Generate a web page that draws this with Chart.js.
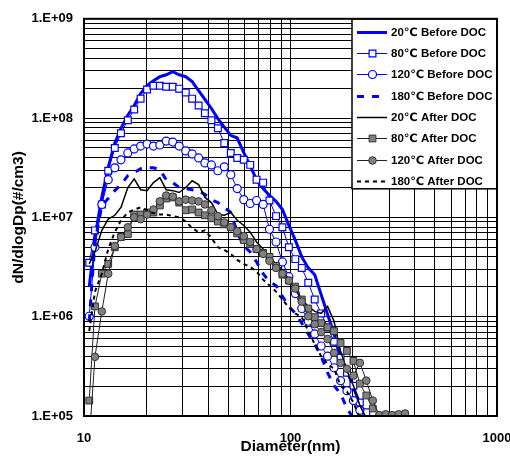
<!DOCTYPE html>
<html>
<head>
<meta charset="utf-8">
<script src="https://cdn.jsdelivr.net/npm/chart.js@4/dist/chart.umd.min.js"></script>
<style>
  html, body { margin: 0; padding: 0; background: #fff; }
</style>
</head>
<body>
<canvas id="psd" width="510" height="456"></canvas>
<script>
// particle diameter channels (nm)
const diameter = [10.6, 11.3, 12.2, 13.1, 14.1, 15.1, 16.3, 17.5, 18.8, 20.2,
  21.7, 23.3, 25.0, 26.9, 28.9, 31.1, 33.4, 35.9, 38.5, 41.4,
  44.5, 47.8, 51.4, 55.2, 59.4, 63.8, 68.5, 73.7, 79.1, 85.1,
  91.4, 98.2, 105.5, 113.4, 121.9, 131.0, 140.7, 151.2, 162.5, 174.7,
  187.7, 201.7, 216.7, 232.9, 250.3, 269.0, 289.0, 310.6, 333.8, 358.7];

// dN/dlogDp (#/cm3)
const before20C = [2.0e6, 6.3e6, 1.6e7, 3.2e7, 5.6e7, 7.9e7, 1.07e8, 1.34e8, 1.77e8, 2.12e8,
  2.38e8, 2.61e8, 2.73e8, 2.93e8, 2.73e8, 2.61e8, 2.33e8, 1.89e8, 1.54e8, 1.25e8,
  9.9e7, 8.1e7, 6.7e7, 6.3e7, 4.5e7, 3.3e7, 2.4e7, 1.95e7, 1.66e7, 1.45e7,
  1.2e7, 8.3e6, 5.9e6, 4.0e6, 3.1e6, 2.65e6, 1.67e6, 1.06e6, 6.7e5, 4.0e5,
  2.86e5, 1.93e5, 1.34e5, 9.1e4];
const before80C = [3.5e6, 7.4e6, 1.35e7, 2.95e7, 5.0e7, 7.05e7, 9.5e7, 1.22e8, 1.57e8, 1.94e8,
  2.12e8, 2.12e8, 2.07e8, 2.07e8, 1.98e8, 1.81e8, 1.57e8, 1.34e8, 1.12e8, 9.5e7,
  7.9e7, 5.6e7, 4.46e7, 3.97e7, 3.8e7, 3.38e7, 2.4e7, 2.24e7, 1.48e7, 1.03e7,
  7.96e6, 5.0e6, 3.8e6, 3.1e6, 2.2e6, 1.49e6, 1.08e6, 7.8e5, 5.6e5, 3.85e5,
  2.73e5, 2.02e5, 1.37e5, 1.09e5];
const before120C = [1.01e6, 5.0e6, 1.35e7, 2.4e7, 3.16e7, 3.8e7, 4.46e7, 4.89e7, 5.23e7, 5.48e7,
  5.23e7, 5.36e7, 5.87e7, 5.74e7, 5.23e7, 4.67e7, 4.36e7, 3.97e7, 3.54e7, 3.38e7,
  2.95e7, 3.23e7, 2.69e7, 1.95e7, 1.51e7, 1.38e7, 1.48e7, 1.35e7, 7.6e6, 5.65e6,
  3.56e6, 2.53e6, 1.71e6, 1.21e6, 9.0e5, 6.7e5, 5.07e5, 4.0e5, 3.06e5, 2.27e5,
  1.8e5, 1.43e5, 1.14e5];
const before180C = [9.0e5, 5.65e6, 1.32e7, 1.55e7, 1.86e7, 2.14e7, 2.63e7, 2.82e7, 3.09e7, 3.16e7,
  3.16e7, 3.02e7, 2.4e7, 2.24e7, 2.0e7, 1.95e7, 1.9e7, 1.86e7, 1.7e7, 1.51e7,
  1.41e7, 1.26e7, 1.12e7, 7.1e6, 5.15e6, 4.49e6, 3.56e6, 2.71e6, 2.25e6, 2.06e6,
  1.6e6, 1.27e6, 1.08e6, 8.6e5, 6.7e5, 5.3e5, 4.0e5, 2.73e5, 2.02e5, 1.68e5,
  1.19e5, 9.5e4];
const after20C = [3.4e6, 4.49e6, 7.4e6, 9.6e6, 1.05e7, 1.26e7, 2.0e7, 2.45e7, 1.9e7, 1.86e7,
  2.24e7, 2.51e7, 1.9e7, 1.86e7, 1.78e7, 2.0e7, 2.34e7, 2.14e7, 1.59e7, 1.41e7,
  1.07e7, 1.05e7, 1.12e7, 9.35e6, 8.3e6, 7.1e6, 5.65e6, 4.8e6, 4.0e6, 3.4e6,
  2.97e6, 2.36e6, 1.88e6, 1.49e6, 1.27e6, 1.13e6, 1.08e6, 1.27e6, 9.0e5, 4.52e5,
  2.86e5, 2.02e5, 1.28e5, 9.5e4];
const after80C = [1.43e5, 1.27e6, 2.71e6, 3.4e6, 5.0e6, 6.34e6, 6.8e6, 1.07e7, 1.07e7, 1.12e7,
  1.12e7, 1.32e7, 1.55e7, 1.59e7, 1.41e7, 1.18e7, 1.2e7, 1.12e7, 1.05e7, 9.8e6,
  9.1e6, 8.5e6, 7.96e6, 6.9e6, 5.9e6, 5.4e6, 4.8e6, 4.39e6, 4.0e6, 3.25e6,
  2.65e6, 2.31e6, 2.01e6, 1.49e6, 1.21e6, 9.9e5, 8.6e5, 7.8e5, 7.15e5, 5.43e5,
  4.52e5, 3.59e5, 2.12e5, 1.61e5, 1.19e5];
const after120C = [5.7e4, 3.94e5, 1.13e6, 2.71e6, 5.15e6, 6.34e6, 7.96e6, 1.0e7, 9.6e6, 1.07e7,
  1.2e7, 1.45e7, 1.66e7, 1.62e7, 1.45e7, 1.51e7, 1.48e7, 1.45e7, 1.35e7, 1.18e7,
  1.03e7, 8.9e6, 7.96e6, 7.26e6, 6.48e6, 5.65e6, 4.8e6, 4.29e6, 3.65e6, 3.1e6,
  2.71e6, 2.31e6, 1.92e6, 1.42e6, 1.01e6, 8.4e5, 7.0e5, 5.96e5, 4.32e5, 3.43e5,
  2.99e5, 2.55e5, 3.43e5, 2.27e5, 1.43e5, 1.02e5, 1.04e5, 1.02e5, 1.04e5, 1.06e5];
const after180C = [7.15e5, 1.79e6, 2.71e6, 4.8e6, 7.1e6, 9.35e6, 1.12e7, 1.2e7, 1.26e7, 1.18e7,
  1.1e7, 1.07e7, 1.07e7, 1.03e7, 1.0e7, 9.1e6, 7.8e6, 7.1e6, 7.4e6, 6.2e6,
  5.0e6, 4.7e6, 4.29e6, 3.73e6, 3.4e6, 3.18e6, 2.84e6, 2.36e6, 2.06e6, 1.79e6,
  1.49e6, 1.24e6, 1.08e6, 9.9e5, 7.15e5, 5.3e5, 4.0e5, 3.35e5, 2.99e5, 2.02e5,
  1.76e5, 1.37e5, 9.5e4];

const seriesLabels = ['20℃ Before DOC', '80℃ Before DOC', '120℃ Before DOC', '180℃ Before DOC',
  '20℃ After DOC', '80℃ After DOC', '120℃ After DOC', '180℃ After DOC'];

// axis gridlines: 1..9 in every decade
const xDecades = [10, 100, 1000];
const yDecades = [1e5, 1e6, 1e7, 1e8, 1e9];
const minorSteps = [1, 2, 3, 4, 5, 6, 7, 8, 9];

const FONT = "'Liberation Sans', Arial, 'DejaVu Sans', sans-serif";
const BLUE = '#0000ff';
const GRAY = '#808080';

function pts(vals){ return vals.map((v, i) => ({x: diameter[i], y: v})).filter(p => p.y != null); }

function gridTicks(decades){
  const out = [];
  decades.forEach((d, i) => {
    if (i === decades.length - 1) { out.push({value: d}); return; }
    minorSteps.forEach(m => out.push({value: m * d}));
  });
  return out;
}

function isDecade(v){
  const e = Math.log10(v);
  return Math.abs(e - Math.round(e)) < 1e-9;
}

const datasets = [
  { label: seriesLabels[0], data: pts(before20C), borderColor: BLUE, borderWidth: 3, pointRadius: 0 },
  { label: seriesLabels[1], data: pts(before80C), borderColor: BLUE, borderWidth: 1,
    pointStyle: 'rect', pointRadius: 4.8, pointBackgroundColor: '#fff', pointBorderColor: BLUE, pointBorderWidth: 1.2 },
  { label: seriesLabels[2], data: pts(before120C), borderColor: BLUE, borderWidth: 1,
    pointStyle: 'circle', pointRadius: 4, pointBackgroundColor: '#fff', pointBorderColor: BLUE, pointBorderWidth: 1.2 },
  { label: seriesLabels[3], data: pts(before180C), borderColor: BLUE, borderWidth: 3, borderDash: [7, 8], pointRadius: 0 },
  { label: seriesLabels[4], data: pts(after20C), borderColor: '#000', borderWidth: 1.5, pointRadius: 0 },
  { label: seriesLabels[5], data: pts(after80C), borderColor: '#222', borderWidth: 1,
    pointStyle: 'rect', pointRadius: 4.8, pointBackgroundColor: GRAY, pointBorderColor: '#333', pointBorderWidth: 1 },
  { label: seriesLabels[6], data: pts(after120C), borderColor: '#222', borderWidth: 1,
    pointStyle: 'circle', pointRadius: 3.8, pointBackgroundColor: GRAY, pointBorderColor: '#333', pointBorderWidth: 1 },
  { label: seriesLabels[7], data: pts(after180C), borderColor: '#000', borderWidth: 2, borderDash: [4, 4], pointRadius: 0 }
];
// later series are drawn on top, like the spreadsheet original
datasets.forEach((ds, i) => { ds.order = datasets.length - i; ds.tension = 0; ds.fill = false; });

// legend box inside the plot, top right
const legendBox = {
  id: 'legendBox',
  afterDatasetsDraw(chart){
    const {ctx, chartArea} = chart;
    const w = 145, h = 170, rowH = 21.3;
    const x0 = chartArea.right - w, y0 = chartArea.top;
    ctx.save();
    ctx.fillStyle = '#fff';
    ctx.fillRect(x0, y0, w, h);
    ctx.strokeStyle = '#000'; ctx.lineWidth = 1.5;
    ctx.strokeRect(x0, y0, w, h);
    datasets.forEach((ds, i) => {
      const y = Math.round(y0 + 13 + i * rowH) + 0.5;
      ctx.beginPath();
      ctx.setLineDash(ds.borderDash || []);
      ctx.strokeStyle = ds.borderColor; ctx.lineWidth = ds.borderWidth;
      ctx.moveTo(x0 + 5, y); ctx.lineTo(x0 + 35, y); ctx.stroke();
      ctx.setLineDash([]);
      if (ds.pointRadius > 0){
        const cx = x0 + 20.5;
        ctx.fillStyle = ds.pointBackgroundColor; ctx.strokeStyle = ds.pointBorderColor;
        ctx.lineWidth = ds.pointBorderWidth;
        ctx.beginPath();
        if (ds.pointStyle === 'rect'){
          const s = ds.pointRadius * Math.SQRT1_2;
          ctx.rect(cx - s, y - s, 2 * s, 2 * s);
        } else {
          ctx.arc(cx, y, ds.pointRadius, 0, Math.PI * 2);
        }
        ctx.fill(); ctx.stroke();
      }
      ctx.fillStyle = '#000';
      ctx.font = 'bold 11.5px ' + FONT;
      ctx.textAlign = 'left'; ctx.textBaseline = 'middle';
      ctx.fillText(ds.label, x0 + 39, y + 0.5);
    });
    ctx.restore();
  },
  afterDraw(chart){
    const {ctx, chartArea: a} = chart;
    ctx.save();
    ctx.strokeStyle = '#000'; ctx.lineWidth = 2;
    ctx.strokeRect(a.left, a.top, a.right - a.left, a.bottom - a.top);
    ctx.restore();
  }
};

Chart.defaults.color = '#000';
Chart.defaults.font.family = FONT;

new Chart(document.getElementById('psd').getContext('2d'), {
  type: 'line',
  data: { datasets },
  options: {
    responsive: false,
    animation: false,
    layout: { padding: { top: 14, right: 13, left: 0, bottom: 0 } },
    plugins: { legend: { display: false }, tooltip: { enabled: false } },
    scales: {
      x: {
        type: 'logarithmic', min: 10, max: 1000,
        afterBuildTicks(axis){ axis.ticks = gridTicks(xDecades); },
        afterFit(scale){ scale.height = 40; scale.paddingLeft = 0; scale.paddingRight = 0; },
        grid: { color: '#000', lineWidth: 1, drawTicks: false },
        border: { display: false },
        ticks: {
          autoSkip: false, maxRotation: 0, padding: 15,
          font: { size: 13, weight: 'bold' },
          callback: v => isDecade(v) ? String(v) : ''
        },
        title: { display: true, text: 'Diameter(nm)', font: { size: 15.5, weight: 'bold' }, padding: { top: 0, bottom: 0 } }
      },
      y: {
        type: 'logarithmic', min: 1e5, max: 1e9,
        afterBuildTicks(axis){ axis.ticks = gridTicks(yDecades); },
        afterFit(scale){ scale.width = 84; },
        grid: { color: '#000', lineWidth: 1, drawTicks: false },
        border: { display: false },
        ticks: {
          autoSkip: false, padding: 11,
          font: { size: 13, weight: 'bold' },
          callback: v => isDecade(v) ? '1.E+' + String(Math.round(Math.log10(v))).padStart(2, '0') : ''
        },
        title: { display: true, text: 'dN/dlogDp(#/cm3)', font: { size: 15.5, weight: 'bold' }, padding: { top: 9, bottom: 0 } }
      }
    }
  },
  plugins: [legendBox]
});
</script>
</body>
</html>
